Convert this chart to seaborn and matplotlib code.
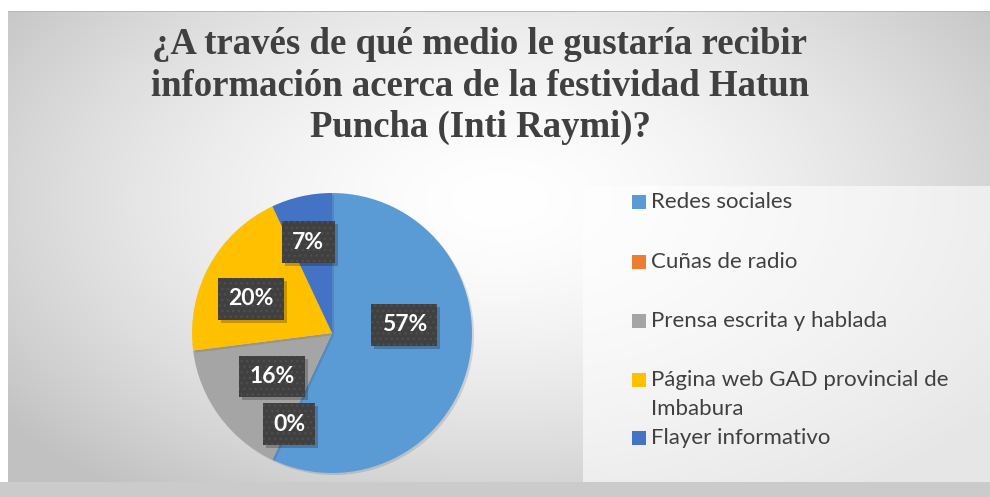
import numpy as np
import matplotlib
matplotlib.use("Agg")
import matplotlib.pyplot as plt
import matplotlib.patheffects as pe
from matplotlib.patches import Rectangle
from matplotlib.transforms import IdentityTransform
import seaborn as sns

# Survey answers (percent of respondents)
categories = ["Redes sociales", "Cuñas de radio", "Prensa escrita y hablada",
              "Página web GAD provincial de\nImbabura", "Flayer informativo"]
percentages = [57, 0, 16, 20, 7]
pct_labels = [f"{p}%" for p in percentages]
title_lines = ["¿A través de qué medio le gustaría recibir",
               "información acerca de la festividad Hatun",
               "Puncha (Inti Raymi)?"]

sns.set_style("white")
palette = sns.color_palette(["#5B9BD5", "#ED7D31", "#A5A5A5", "#FFC000", "#4472C4"])

W, H = 990, 497
fig = plt.figure(figsize=(W / 100, H / 100), dpi=100)
fig.patch.set_facecolor("white")

def fx(px):
    return px / W

def fy(py):  # py measured from top
    return 1 - py / H

# chart area with a soft radial gradient
cx0, cy0, cx1, cy1 = 8, 12, 990, 482
bg = fig.add_axes([fx(cx0), fy(cy1), fx(cx1 - cx0), fy(cy0) - fy(cy1)])
bg.set_axis_off()
gx = np.linspace(0, 1, 400)
gy = np.linspace(0, 1, 200)
X, Y = np.meshgrid(gx, gy)
d = np.sqrt(((X - 0.50) / 0.62) ** 2 + ((Y - 0.40) / 0.75) ** 2)
shade = 1.0 - 0.23 * np.clip(d, 0, 1.25) ** 1.6
shade = np.clip(shade, 0.76, 1.0)
bg.imshow(np.dstack([shade, shade, shade]), extent=[0, 1, 0, 1], origin="upper",
          aspect="auto", interpolation="bilinear")
bg.set_xlim(0, 1)
bg.set_ylim(0, 1)

# strip under the chart area
fig.patches.append(Rectangle((0, 0), 1, fy(cy1), transform=fig.transFigure,
                             facecolor="#cbcbcb", edgecolor="none", zorder=0.5))
fig.patches.append(Rectangle((fx(cx0), fy(cy0)), 1, 1.5 / H, transform=fig.transFigure,
                             facecolor="#b8b8b8", edgecolor="none", zorder=3))

# legend panel
fig.patches.append(Rectangle((fx(583), fy(482)), 1 - fx(583), fy(186) - fy(482),
                             transform=fig.transFigure, facecolor="white",
                             alpha=0.6, edgecolor="none", zorder=1))

# title, one line per row
for i, line in enumerate(title_lines):
    fig.text(fx(480), fy(45 + 41 * i), line, ha="center", va="center",
             fontsize=26.5, fontweight="bold", family="Liberation Serif",
             color="#404040", zorder=5)

# pie
pcx, pcy, R = 332, 333, 140
pax = fig.add_axes([fx(pcx - R), fy(pcy + R), fx(2 * R), fy(pcy - R) - fy(pcy + R)])
pax.set_zorder(2)
wedges, _ = pax.pie(percentages, colors=palette, startangle=90, counterclock=False,
                    wedgeprops=dict(linewidth=0))
for w in wedges:
    w.set_path_effects([pe.SimplePatchShadow(offset=(1.5, -1.5), alpha=0.15), pe.Normal()])
pax.set_xlim(-1, 1)
pax.set_ylim(-1, 1)
pax.set_aspect("equal")
pax.set_axis_off()

# data labels placed along each wedge, on dark dotted boxes
label_radius = [0.52, 0.72, 0.53, 0.63, 0.67]
label_angle_shift = [19, 0, 0, 6, 2]
plt.rcParams["hatch.color"] = "#525252"
plt.rcParams["hatch.linewidth"] = 1.0
labels = []
for w, txt, r, sh in zip(wedges, pct_labels, label_radius, label_angle_shift):
    ang = np.deg2rad((w.theta1 + w.theta2) / 2 + sh)
    t = pax.text(r * np.cos(ang), r * np.sin(ang), txt, ha="center", va="center",
                 fontsize=16.5, fontweight="bold", family="Lato", color="white",
                 zorder=6,
                 bbox=dict(boxstyle="square,pad=0.45", facecolor="#404040",
                           edgecolor="#4e4e4e", linewidth=0, hatch="..."))
    labels.append(t)

# drop shadows behind the label boxes
fig.canvas.draw()
renderer = fig.canvas.get_renderer()
for t in labels:
    bb = t.get_bbox_patch().get_window_extent(renderer)
    pax.add_patch(Rectangle((bb.x0 + 3, bb.y0 - 3), bb.width, bb.height,
                            transform=IdentityTransform(), facecolor="black",
                            alpha=0.22, edgecolor="none", zorder=5, clip_on=False))

# legend entries
leg_rows = [202, 262, 321, 380, 438]
for name, col, row in zip(categories, palette, leg_rows):
    fig.patches.append(Rectangle((fx(632), fy(row + 7)), fx(14), 14 / H,
                                 transform=fig.transFigure, facecolor=col,
                                 edgecolor="none", zorder=4))
    for k, part in enumerate(name.split("\n")):
        fig.text(fx(651), fy(row + 29 * k), part, ha="left", va="center",
                 fontsize=16, family="Lato", color="#404040", zorder=5)

fig.savefig("out.png", dpi=100, facecolor=fig.get_facecolor())
